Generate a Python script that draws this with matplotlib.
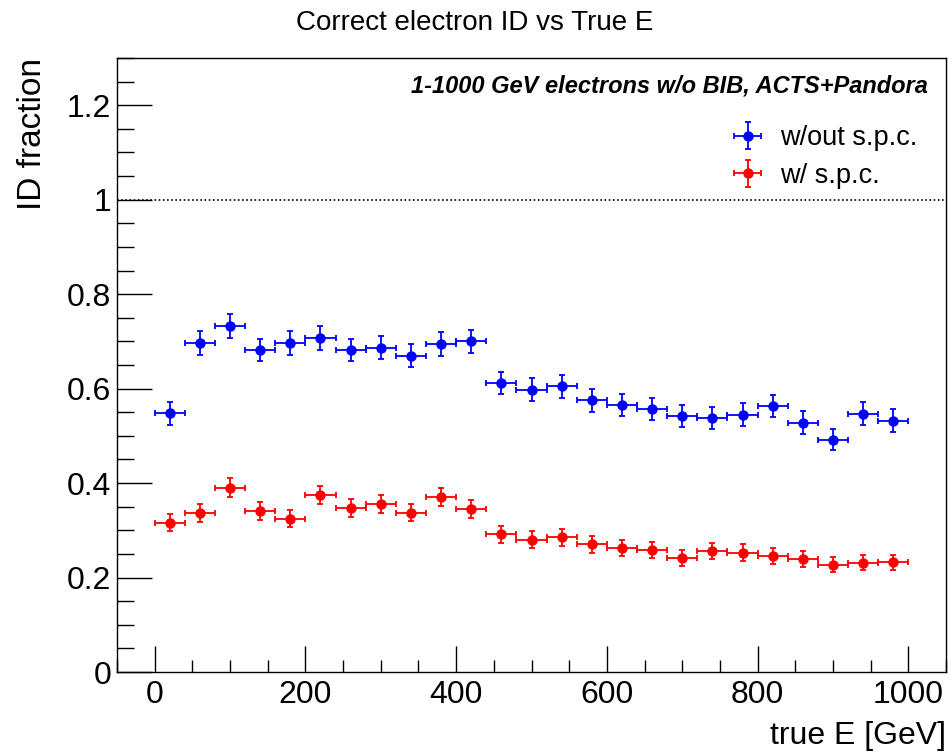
import matplotlib.pyplot as plt
from matplotlib.ticker import MultipleLocator
import numpy as np

# bin centres (40 GeV bins)
E_CENTRES = [20, 60, 100, 140, 180, 220, 260, 300, 340, 380, 420, 460, 500,
             540, 580, 620, 660, 700, 740, 780, 820, 860, 900, 940, 980]
E_HALFWIDTH = 20

FRAC_NO_SPC = [0.548, 0.697, 0.733, 0.682, 0.697, 0.707, 0.682, 0.687, 0.670,
               0.695, 0.700, 0.612, 0.598, 0.605, 0.575, 0.565, 0.557, 0.542,
               0.538, 0.545, 0.563, 0.528, 0.492, 0.547, 0.532]
ERR_NO_SPC = [0.024, 0.025, 0.025, 0.024, 0.025, 0.025, 0.024, 0.025, 0.024,
              0.025, 0.025, 0.024, 0.024, 0.024, 0.024, 0.024, 0.024, 0.024,
              0.024, 0.024, 0.024, 0.024, 0.023, 0.024, 0.024]

FRAC_SPC = [0.316, 0.336, 0.390, 0.340, 0.324, 0.374, 0.348, 0.356, 0.337,
            0.371, 0.346, 0.292, 0.280, 0.285, 0.270, 0.263, 0.258, 0.241,
            0.257, 0.253, 0.246, 0.240, 0.227, 0.231, 0.232]
ERR_SPC = [0.018, 0.019, 0.020, 0.019, 0.018, 0.019, 0.019, 0.019, 0.018,
           0.019, 0.019, 0.018, 0.018, 0.018, 0.017, 0.017, 0.017, 0.017,
           0.017, 0.017, 0.017, 0.017, 0.016, 0.016, 0.016]

plt.rcParams["font.family"] = ["Liberation Sans", "DejaVu Sans"]

fig = plt.figure(figsize=(9.51, 7.55), dpi=100)
ax = fig.add_axes([117 / 951, 1 - 672 / 755, (946 - 117) / 951, (672 - 58) / 755])

x = np.array(E_CENTRES)
xerr = np.full(len(x), E_HALFWIDTH)

ax.errorbar(x, FRAC_NO_SPC, xerr=xerr, yerr=ERR_NO_SPC, fmt="o", color="blue",
            ms=6.5, elinewidth=1.3, capsize=2.5, capthick=1.3, label="w/out s.p.c.")
ax.errorbar(x, FRAC_SPC, xerr=xerr, yerr=ERR_SPC, fmt="o", color="red",
            ms=6.5, elinewidth=1.3, capsize=2.5, capthick=1.3, label="w/ s.p.c.")

ax.axhline(1.0, color="black", linestyle=(0, (1, 1.5)), linewidth=1.2)

ax.set_xlim(-50, 1050)
ax.set_ylim(0, 1.3)
ax.xaxis.set_major_locator(MultipleLocator(200))
ax.xaxis.set_minor_locator(MultipleLocator(50))
ax.yaxis.set_major_locator(MultipleLocator(0.2))
ax.yaxis.set_minor_locator(MultipleLocator(0.05))
ax.yaxis.set_major_formatter(plt.FuncFormatter(lambda v, p: f"{v:g}"))

ax.tick_params(axis="x", which="major", direction="in", length=19, width=1,
               labelsize=23, pad=6)
ax.tick_params(axis="x", which="minor", direction="in", length=9, width=1)
ax.tick_params(axis="y", which="major", direction="in", length=25, width=1,
               labelsize=23, pad=4)
ax.tick_params(axis="y", which="minor", direction="in", length=12, width=1)
for s in ax.spines.values():
    s.set_linewidth(1)

ax.set_xlabel("true E [GeV]", fontsize=23, loc="right", labelpad=8)
ax.set_ylabel("ID fraction", fontsize=24, loc="top", labelpad=14)

fig.text(475 / 951, 1 - 23 / 755, "Correct electron ID vs True E",
         ha="center", va="center", fontsize=20)
ax.text(0.978, 0.955, "1-1000 GeV electrons w/o BIB, ACTS+Pandora",
        transform=ax.transAxes, ha="right", va="center", fontsize=17,
        fontweight="bold", fontstyle="italic")

ax.legend(loc="upper right", bbox_to_anchor=(0.995, 0.93), frameon=False,
          fontsize=19.5, handlelength=1.6, handletextpad=0.4, labelspacing=0.42)

fig.savefig("out.png", dpi=100)
